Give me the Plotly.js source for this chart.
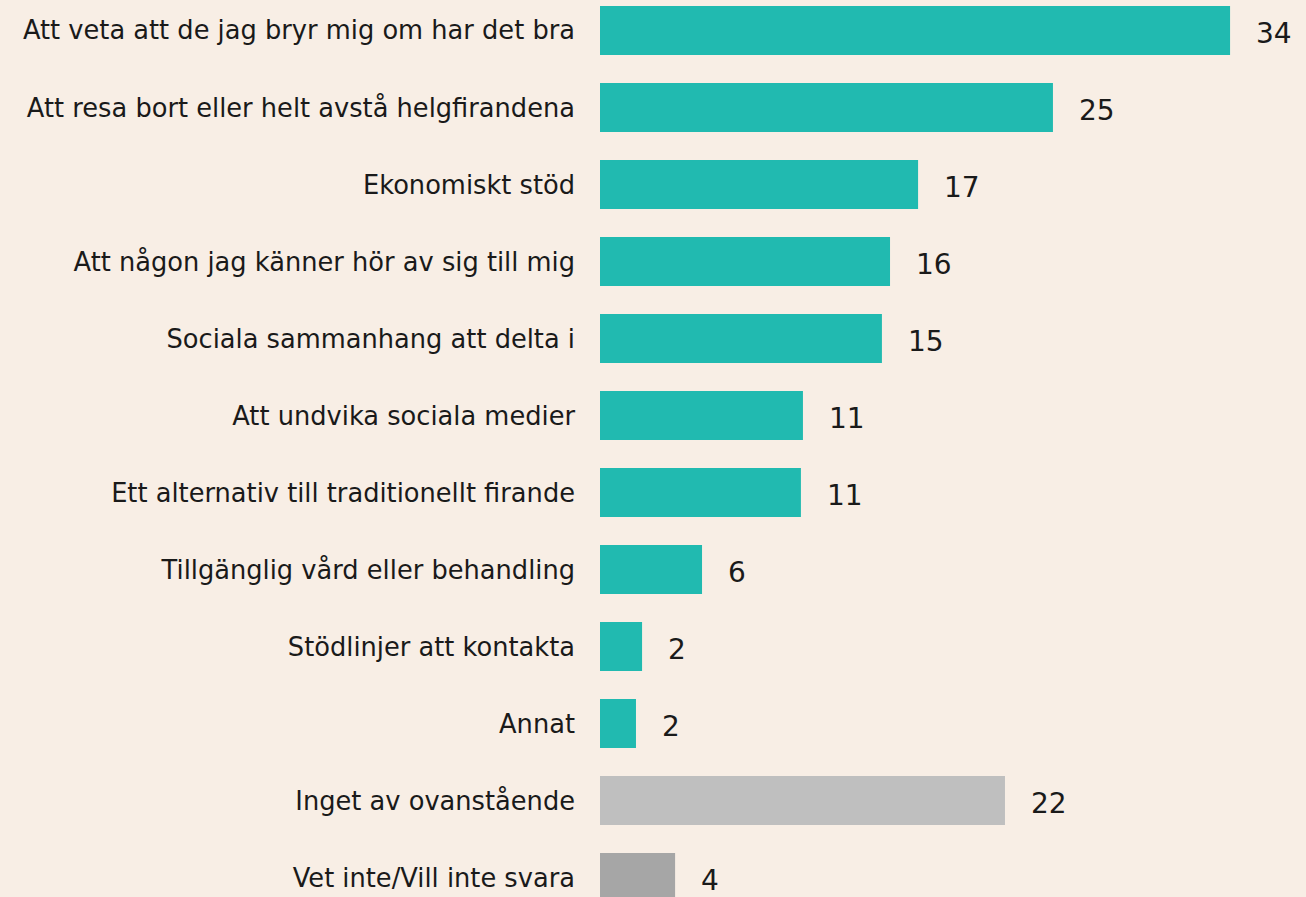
<!DOCTYPE html>
<html>
<head>
<meta charset="utf-8">
<script src="https://cdn.plot.ly/plotly-3.0.1.min.js"></script>
<style>
html,body{margin:0;padding:0;background:#F8EEE5;}
#chart{width:1306px;height:897px;}
</style>
</head>
<body>
<div id="chart"></div>
<script>
const categories = [
  "Att veta att de jag bryr mig om har det bra",
  "Att resa bort eller helt avstå helgfirandena",
  "Ekonomiskt stöd",
  "Att någon jag känner hör av sig till mig",
  "Sociala sammanhang att delta i",
  "Att undvika sociala medier",
  "Ett alternativ till traditionellt firande",
  "Tillgänglig vård eller behandling",
  "Stödlinjer att kontakta",
  "Annat",
  "Inget av ovanstående",
  "Vet inte/Vill inte svara"
];
const values = [34.15, 24.55, 17.24, 15.72, 15.28, 11.0, 10.89, 5.53, 2.28, 1.95, 21.95, 4.07];
const valueLabels = ["34", "25", "17", "16", "15", "11", "11", "6", "2", "2", "22", "4"];
const barColors = ["#21BAB0","#21BAB0","#21BAB0","#21BAB0","#21BAB0","#21BAB0","#21BAB0","#21BAB0","#21BAB0","#21BAB0","#BFBFBF","#A6A6A6"];

const FONT = "'Century Gothic', 'DejaVu Sans', sans-serif";

const trace = {
  type: 'bar',
  orientation: 'h',
  x: values,
  y: categories,
  marker: {color: barColors, line: {width: 0}},
  width: 0.636,
  hoverinfo: 'none'
};

const annotations = values.map((v, i) => ({
  x: v, y: categories[i], xref: 'x', yref: 'y',
  text: valueLabels[i], showarrow: false,
  xanchor: 'left', yanchor: 'middle', xshift: 24, yshift: -3,
  font: {family: FONT, size: 28, color: '#1a1a1a'}
}));

const layout = {
  width: 1306, height: 897,
  margin: {l: 600, r: 0, t: 0, b: 0, pad: 0},
  paper_bgcolor: '#F8EEE5',
  plot_bgcolor: '#F8EEE5',
  showlegend: false,
  bargap: 0.36,
  xaxis: {range: [0, 706/18.45], visible: false, fixedrange: true},
  yaxis: {
    type: 'category',
    range: [11.253, -0.396],
    showgrid: false, zeroline: false, showline: false,
    ticks: '', ticklabelstandoff: 24,
    tickfont: {family: FONT, size: 25.7, color: '#1a1a1a'},
    fixedrange: true
  },
  annotations: annotations
};

Plotly.newPlot('chart', [trace], layout, {displayModeBar: false, staticPlot: true});
</script>
</body>
</html>
